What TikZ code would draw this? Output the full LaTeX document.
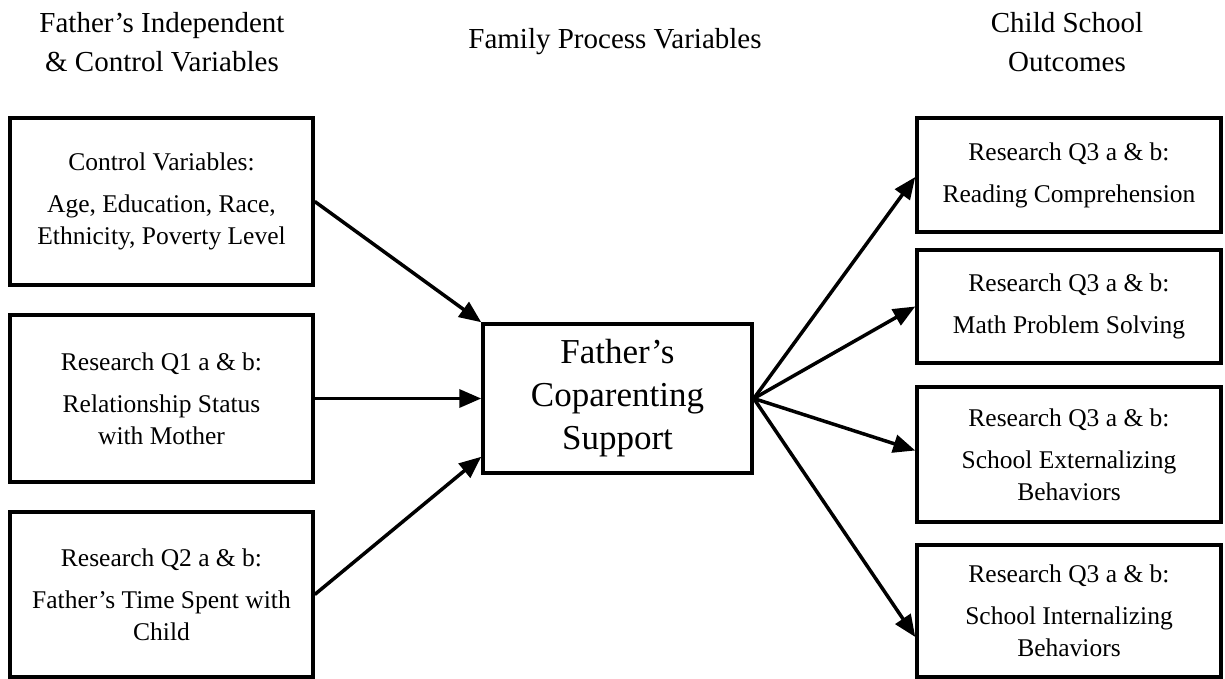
\documentclass[tikz,border=0pt]{standalone}
\usepackage{fontspec}
\setmainfont{Liberation Serif}
\usetikzlibrary{arrows.meta,calc}
\begin{document}
\begin{tikzpicture}[x=1pt,y=-1pt,
  box/.style={draw,line width=3.5pt,align=center,inner sep=0pt,
    font=\fontsize{25.5}{32}\selectfont},
  head/.style={align=center,inner sep=0pt,font=\fontsize{29}{39}\selectfont},
  arr/.style={line width=3.5pt,-{Triangle[length=22pt,width=18pt]}}]
\useasboundingbox (0,0) rectangle (1225,679);
% headers
\node[head] (h1) at (162,42) {Father's Independent\\\& Control Variables};
\node[head] (h2) at (615,42) {Family Process Variables};
\node[head] (h3) at (1067,42) {Child School\\Outcomes};
% left boxes
\node[box,minimum width=303pt,minimum height=167pt] (l1) at (161.5,201.5)
  {Control Variables:\\[10pt]Age, Education, Race,\\Ethnicity, Poverty Level};
\node[box,minimum width=303pt,minimum height=167pt] (l2) at (161.5,398.5)
  {Research Q1 a \& b:\\[10pt]Relationship Status\\with Mother};
\node[box,minimum width=303pt,minimum height=165pt] (l3) at (161.5,594.5)
  {Research Q2 a \& b:\\[10pt]Father's Time Spent with\\Child};
% center box
\node[box,minimum width=269pt,minimum height=149pt,
  font=\fontsize{35}{43}\selectfont] (c) at (617.5,398.5)
  {Father's\\Coparenting\\Support};
% right boxes
\node[box,minimum width=304pt,minimum height=114pt] (r1) at (1069,175)
  {Research Q3 a \& b:\\[10pt]Reading Comprehension};
\node[box,minimum width=304pt,minimum height=113pt] (r2) at (1069,306.5)
  {Research Q3 a \& b:\\[10pt]Math Problem Solving};
\node[box,minimum width=304pt,minimum height=135pt] (r3) at (1069,454.5)
  {Research Q3 a \& b:\\[10pt]School Externalizing\\Behaviors};
\node[box,minimum width=304pt,minimum height=132pt] (r4) at (1069,611)
  {Research Q3 a \& b:\\[10pt]School Internalizing\\Behaviors};
% arrows
\draw[arr] (l1.east) -- (c.north west);
\draw[arr] (l2.east) -- (c.west);
\draw[arr] (l3.east) -- ($(c.south west)+(0,-18)$);
\draw[arr] (c.east) -- ($(r1.west)+(0,2)$);
\draw[arr] (c.east) -- (r2.west);
\draw[arr] (c.east) -- ($(r3.west)+(0,-4)$);
\draw[arr] (c.east) -- ($(r4.west)+(0,26)$);
\end{tikzpicture}
\end{document}
